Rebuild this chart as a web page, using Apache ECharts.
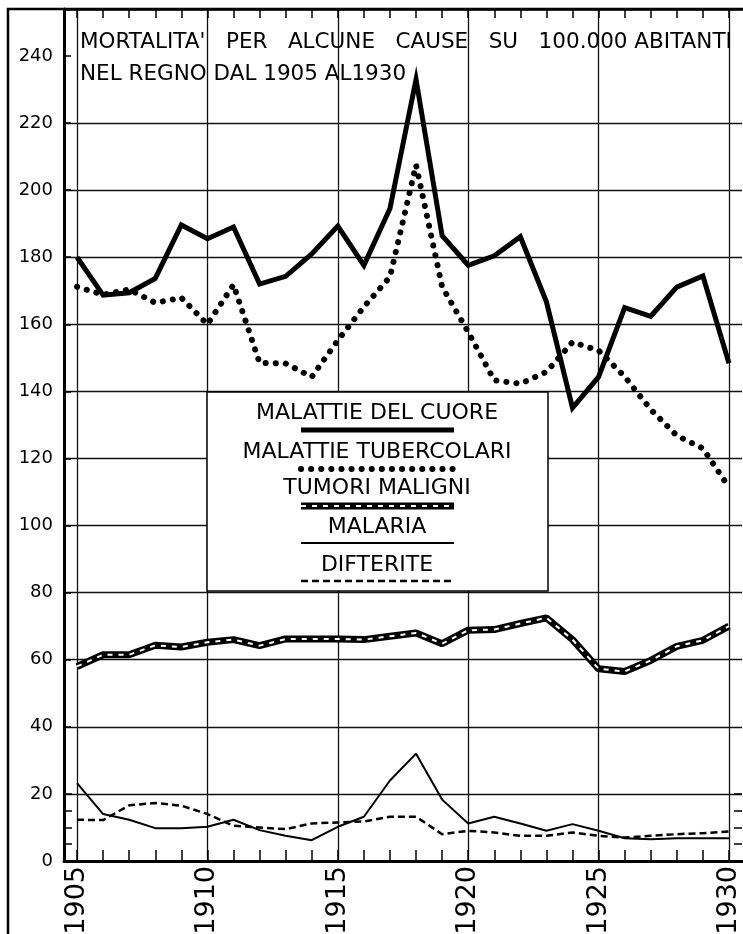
<!DOCTYPE html>
<html>
<head>
<meta charset="utf-8">
<script src="https://cdn.jsdelivr.net/npm/echarts@6/dist/echarts.min.js"></script>
<style>
html,body{margin:0;padding:0;background:#fff}
#container{width:743px;height:934px}
</style>
</head>
<body>
<div id="container"></div>
<script>
// anni (asse x)
var years = ['1905','1906','1907','1908','1909','1910','1911','1912','1913','1914','1915','1916','1917',
  '1918','1919','1920','1921','1922','1923','1924','1925','1926','1927','1928','1929','1930'];

// morti su 100.000 abitanti
var cuore = [180, 168.7, 169.4, 173.7, 189.6, 185.5, 189.0, 172.0, 174.3, 181, 189.3, 177.6, 194.5,
  233, 186.4, 177.6, 180.4, 186.1, 166.7, 135.1, 144.3, 165.0, 162.4, 171.1, 174.4, 148.4];
var tubercolari = [171.2, 168.8, 170.4, 166.4, 167.9, 160.0, 171.8, 148.5, 148.3, 144.3, 155.2, 165.2, 174.1,
  207.5, 171.2, 157.7, 143.3, 142.3, 145.8, 154.7, 152.2, 144.4, 134.6, 126.8, 123.0, 111.4];
var tumori = [58.0, 61.5, 61.5, 64.3, 63.8, 65.2, 66.0, 64.2, 66.2, 66.2, 66.2, 66.0, 67.0,
  68.0, 64.8, 68.8, 69.0, 70.8, 72.5, 66.0, 57.3, 56.5, 59.8, 64.0, 65.8, 70.0];
var malaria = [23.2, 14.0, 12.3, 9.8, 9.8, 10.2, 12.3, 9.2, 7.5, 6.2, 10.2, 13.2, 24.0,
  32.0, 18.3, 11.2, 13.2, 11.2, 9.0, 11.0, 9.0, 6.8, 6.5, 6.8, 6.8, 6.8];
var difterite = [12.3, 12.2, 16.6, 17.3, 16.5, 14.0, 10.5, 10.0, 9.5, 11.2, 11.5, 11.8, 13.2,
  13.2, 8.0, 9.0, 8.5, 7.5, 7.5, 8.5, 7.5, 7.0, 7.5, 8.0, 8.3, 8.8];

var legendNames = ['MALATTIE DEL CUORE', 'MALATTIE TUBERCOLARI', 'TUMORI MALIGNI', 'MALARIA', 'DIFTERITE'];

var FONT = '"DejaVu Sans", sans-serif';

// niente linea di griglia a 240 (c'e' il titolo) e in cima
var hColors = [];
for (var v = 0; v <= 240; v += 20) hColors.push(v == 240 ? 'transparent' : '#111');
hColors.push('transparent');

var myChart = echarts.init(document.getElementById('container'), null, {renderer: 'canvas'});

function legendText(txt, y) {
  return {type: 'text', x: 377, y: y, z: 101,
    style: {text: txt, fontFamily: FONT, fontSize: 22, fill: '#000', align: 'center', verticalAlign: 'middle'}};
}
function legendLine(y, style) {
  return {type: 'line', z: 101, shape: {x1: 301, y1: y, x2: 454, y2: y}, style: style};
}

var option = {
  animation: false,
  backgroundColor: '#fff',
  title: {
    text: "MORTALITA'   PER   ALCUNE   CAUSE   SU   100.000 ABITANTI\nNEL REGNO DAL 1905 AL1930",
    left: 80, top: 26, padding: 0,
    textStyle: {fontFamily: FONT, fontSize: 21.5, fontWeight: 'normal', color: '#000', lineHeight: 32}
  },
  grid: [
    {left: 64, right: 1, top: 9, bottom: 73, containLabel: false, outerBoundsMode: 'none'},
    {left: 64, right: 1, top: 793.9, bottom: 73, containLabel: false, outerBoundsMode: 'none'}
  ],
  xAxis: [
    {
      type: 'category', data: years, boundaryGap: true, gridIndex: 0, position: 'bottom',
      axisLine: {show: true, lineStyle: {color: '#000', width: 3}},
      axisTick: {show: true, inside: true, length: 11, alignWithLabel: true, interval: 0, lineStyle: {color: '#000', width: 1.5}},
      axisLabel: {show: true, interval: 4, rotate: 90, margin: 5, fontFamily: FONT, fontSize: 27, color: '#000'},
      splitLine: {show: true, interval: 4, alignWithLabel: true, lineStyle: {color: '#111', width: 1.3}}
    },
    {
      type: 'category', data: years, boundaryGap: true, gridIndex: 0, position: 'top',
      axisLine: {show: true, lineStyle: {color: '#000', width: 2.5}},
      axisTick: {show: true, inside: true, length: 9, alignWithLabel: true, interval: 0, lineStyle: {color: '#000', width: 1.5}},
      axisLabel: {show: false},
      splitLine: {show: false}
    },
    {
      type: 'category', data: years, gridIndex: 1, show: false
    }
  ],
  yAxis: [
    {
      type: 'value', gridIndex: 0, min: 0, max: 254, interval: 20, position: 'left',
      axisLine: {show: true, lineStyle: {color: '#000', width: 3}},
      axisTick: {show: true, inside: true, length: 7, lineStyle: {color: '#000', width: 1.5}},
      axisLabel: {show: true, showMaxLabel: false, margin: 11, fontFamily: FONT, fontSize: 18, color: '#000'},
      splitLine: {show: true, lineStyle: {color: hColors, width: 1.3}}
    },
    {
      type: 'value', gridIndex: 1, min: 0, max: 20, interval: 5, position: 'left',
      axisLine: {show: false},
      axisTick: {show: true, inside: true, length: 8, lineStyle: {color: '#000', width: 1.5}},
      axisLabel: {show: false}, splitLine: {show: false}
    },
    {
      type: 'value', gridIndex: 1, min: 0, max: 20, interval: 5, position: 'right',
      axisLine: {show: false},
      axisTick: {show: true, inside: true, length: 8, lineStyle: {color: '#000', width: 1.5}},
      axisLabel: {show: false}, splitLine: {show: false}
    }
  ],
  series: [
    {
      name: legendNames[0], type: 'line', data: cuore, showSymbol: false, silent: true,
      lineStyle: {color: '#000', width: 5, join: 'miter'}
    },
    {
      name: legendNames[1], type: 'line', data: tubercolari, showSymbol: false, silent: true,
      lineStyle: {color: '#000', width: 6, type: [0.1, 10], cap: 'round'}
    },
    {
      name: legendNames[2], type: 'line', data: tumori, showSymbol: false, silent: true,
      lineStyle: {color: '#000', width: 7}
    },
    {
      name: legendNames[2] + ' ', type: 'line', data: tumori, showSymbol: false, silent: true,
      lineStyle: {color: '#fff', width: 2, type: [5, 6]}
    },
    {
      name: legendNames[3], type: 'line', data: malaria, showSymbol: false, silent: true,
      lineStyle: {color: '#000', width: 2}
    },
    {
      name: legendNames[4], type: 'line', data: difterite, showSymbol: false, silent: true,
      lineStyle: {color: '#000', width: 2.5, type: [7, 4]}
    }
  ],
  graphic: [
    // cornice esterna
    {type: 'polyline', z: 100, shape: {points: [[8, 934], [8, 9], [743, 9]]},
      style: {stroke: '#000', lineWidth: 2.5, fill: null}},
    // riquadro legenda
    {type: 'rect', z: 100, shape: {x: 207, y: 392, width: 341, height: 199},
      style: {fill: '#fff', stroke: '#000', lineWidth: 1.5}},
    legendText(legendNames[0], 413),
    legendLine(430, {stroke: '#000', lineWidth: 5}),
    legendText(legendNames[1], 452),
    legendLine(469, {stroke: '#000', lineWidth: 6, lineDash: [0.1, 10], lineCap: 'round'}),
    legendText(legendNames[2], 488),
    legendLine(506, {stroke: '#000', lineWidth: 7}),
    legendLine(506, {stroke: '#fff', lineWidth: 2, lineDash: [5, 6]}),
    legendText(legendNames[3], 527),
    legendLine(543, {stroke: '#000', lineWidth: 2}),
    legendText(legendNames[4], 565),
    legendLine(581, {stroke: '#000', lineWidth: 2.5, lineDash: [7, 4]})
  ]
};

myChart.setOption(option);
</script>
</body>
</html>
